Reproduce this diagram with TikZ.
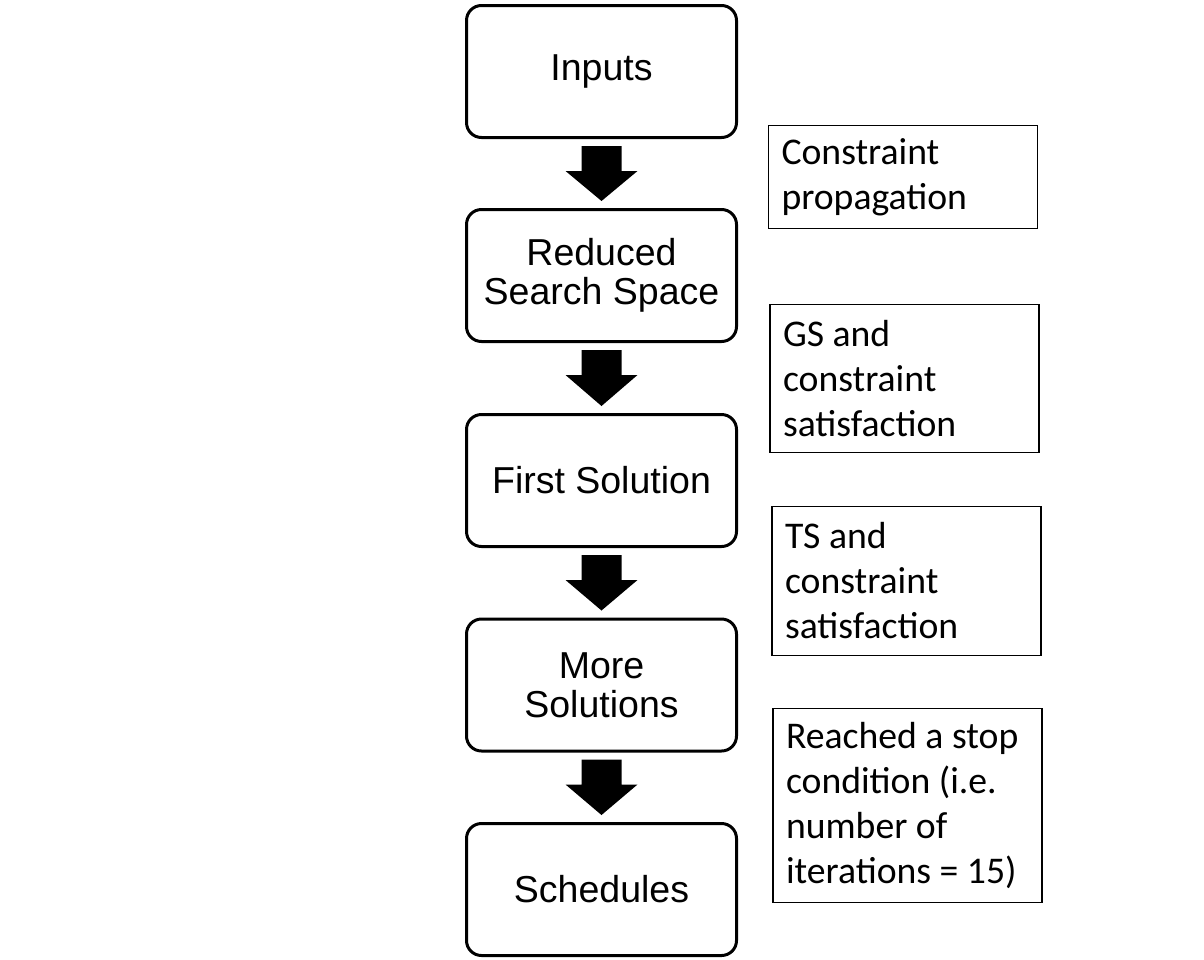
\documentclass[tikz,border=0pt]{standalone}
\usepackage{fontspec}
\setmainfont{Liberation Sans}
\newfontfamily\calib{Carlito}
\usetikzlibrary{calc}
\tikzset{
  mainbox/.style={draw, line width=3pt, rounded corners=15pt, minimum width=270pt, minimum height=132pt,
    align=flush center, font=\fontsize{37.5}{39}\selectfont, inner sep=0pt},
  notebox/.style={draw, line width=1.8pt, align=flush left, inner xsep=13pt, inner ysep=0pt,
    font=\calib\fontsize{37.7}{45}\selectfont},
  flowarrow/.style={fill=black}
}
\newcommand\flowarrow[2]{%
  \fill[flowarrow] ($(#1.south)+(-20,7)$) -- ($(#1.south)+(20,7)$) -- ($(#1.south)+(20,32)$)
    -- ($(#1.south)+(36,32)$) -- ($(#2.north)+(0,-7)$) -- ($(#1.south)+(-36,32)$)
    -- ($(#1.south)+(-20,32)$) -- cycle;}
\begin{document}
\begin{tikzpicture}[x=1pt,y=-1pt]
\useasboundingbox[fill=white] (0,0) rectangle (1204,959);
\node[mainbox] (in) at (601.5,71.5) {Inputs};
\node[mainbox] (rs) at (601.5,275.5) {Reduced\\Search Space};
\node[mainbox] (fs) at (601.5,480.5) {First Solution};
\node[mainbox] (ms) at (601.5,685) {More\\Solutions};
\node[mainbox] (sc) at (601.5,889.5) {Schedules};
\flowarrow{in}{rs}
\flowarrow{rs}{fs}
\flowarrow{fs}{ms}
\flowarrow{ms}{sc}
\node[notebox, text width=243pt, minimum height=103pt] (n1) at (903,177) {Constraint\\propagation};
\node[notebox, text width=243pt, minimum height=148pt] (n2) at (904.5,378.5) {GS and\\constraint\\satisfaction};
\node[notebox, text width=243pt, minimum height=149pt] (n3) at (906.5,581) {TS and\\constraint\\satisfaction};
\node[notebox, text width=243pt, minimum height=194pt] (n4) at (907.5,805.5) {Reached a stop\\condition (i.e.\\number of\\iterations = 15)};
\end{tikzpicture}
\end{document}
